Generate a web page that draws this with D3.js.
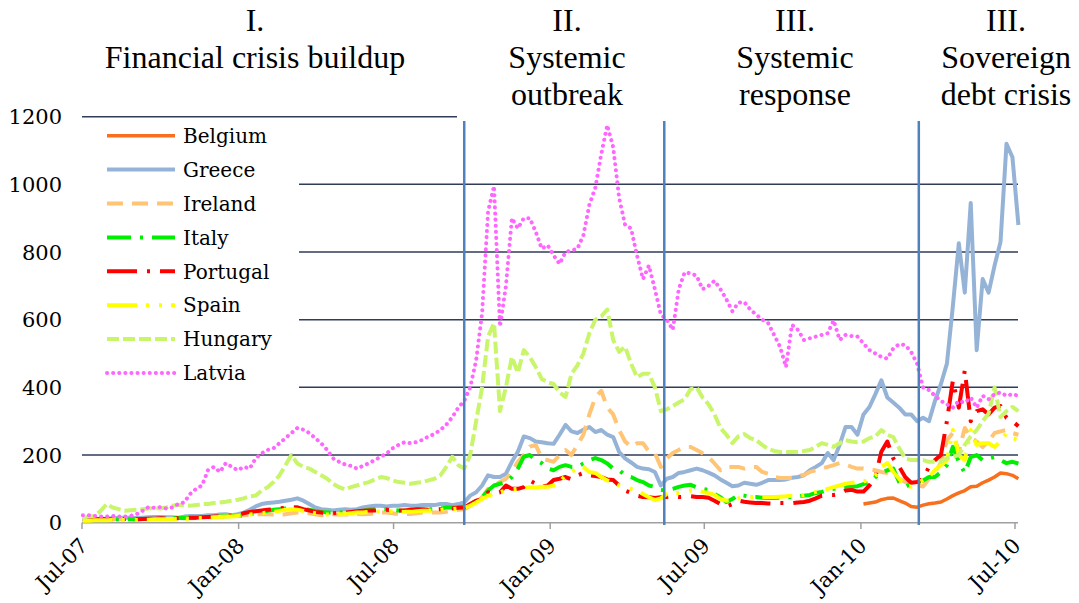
<!DOCTYPE html>
<html><head><meta charset="utf-8">
<script src="https://cdn.jsdelivr.net/npm/d3@7"></script>
<style>body{margin:0;background:#fff} svg{display:block}</style>
</head><body>
<svg id="chart" width="1079" height="603"></svg>
<script>
// ---- data (weekly observations, starting at firstWeek) ----
const seriesNames = ["Belgium","Greece","Ireland","Italy","Portugal","Spain","Hungary","Latvia"];
const firstWeek = "2007-07-02";
const belgiumFirstWeek = "2010-01-04";

const belgium = [55,58,61,68,72,73,65,58,48,46,52,56,58,61,70,80,88,95,106,108,118,126,135,147,145,140,130];

const greece = [
10,10,11,12,12,14,14,15,15,14, 15,16,17,17,16,16,15,18,20,20,
20,22,22,24,25,22,25,30,38,48, 55,58,60,62,65,68,72,65,55,45,
40,38,36,38,40,38,40,45,48,50, 50,48,50,50,52,50,50,52,52,52,
55,55,52,55,60,80,90,110,140,135, 135,145,180,210,255,250,240,238,235,233,
260,289,270,265,275,283,268,274,260,253, 209,190,178,165,160,158,150,110,130,135,
147,150,155,160,155,148,140,128,118,108, 110,118,115,112,118,126,126,126,128,133,
135,140,155,165,176,206,185,230,283,283, 260,320,342,380,421,370,355,340,320,320,
300,310,300,360,410,470,640,826,680,945, 510,720,680,760,830,1120,1080,880];

const ireland = [
8,8,9,9,10,10,10,9,9,9, 10,10,10,11,11,12,12,13,13,14,
15,16,17,18,18,20,20,22,24,25, 25,25,24,24,25,28,30,30,28,25,
22,25,25,24,24,25,26,25,26,28, 30,30,28,25,25,26,28,30,30,30,
30,32,35,38,40,50,60,75,100,110, 120,130,150,180,200,225,230,190,185,180,
200,215,200,230,260,320,370,390,340,320, 274,240,224,235,235,210,206,165,190,206,
215,224,224,215,205,194,175,155,165,165, 165,160,165,165,150,145,135,132,132,132,
138,141,150,155,160,165,170,176,172,165, 160,160,158,155,150,147,140,130,120,118,
110,107,130,150,176,244,265,210,280,253, 240,224,240,265,270,274,265,260];

const italy = [
8,8,9,9,9,10,10,10,10,10, 11,11,12,12,13,13,14,14,15,15,
16,17,18,18,19,20,20,22,25,28, 32,35,38,40,42,43,45,42,38,35,
32,30,30,30,30,30,32,35,38,40, 40,40,38,36,35,36,38,40,40,40,
42,45,45,46,48,55,65,75,95,110, 115,120,135,160,195,200,185,176,160,155,
165,170,165,165,175,185,191,185,175,160, 155,140,135,126,120,110,106,97,95,100,
106,110,112,105,100,97,85,75,61,70, 82,80,76,76,74,73,73,74,75,76,
78,80,82,88,91,96,100,104,106,106, 108,114,118,135,147,155,160,120,106,115,
118,125,135,135,150,170,224,180,147,194, 200,185,190,194,185,176,180,175];

const portugal = [
10,9,10,11,10,10,12,11,12,10, 11,12,12,13,12,14,13,14,15,15,
16,17,18,19,20,21,22,28,32,34, 36,38,40,42,44,46,45,40,36,32,
30,28,28,30,30,32,34,35,36,36, 38,38,37,36,36,38,40,40,38,38,
40,42,42,44,45,55,65,70,90,85, 90,110,100,100,105,125,115,106,110,126,
130,135,128,140,147,140,138,135,128,126, 110,95,88,80,76,75,73,75,76,78,
76,76,78,76,76,74,65,55,48,55, 65,62,60,58,58,57,56,58,58,58,
60,61,65,72,80,82,82,85,95,97, 92,92,110,135,210,240,190,165,135,118,
120,130,165,185,200,300,420,340,450,300, 330,335,320,340,345,310,300,285];

const spain = [
6,6,7,7,7,8,8,8,8,8, 9,9,10,10,10,11,11,12,12,13,
14,15,16,17,18,18,20,22,24,26, 28,30,32,35,38,40,38,35,32,28,
25,24,24,25,26,28,30,30,32,32, 33,34,34,33,32,32,34,35,35,36,
38,40,40,42,44,50,60,70,80,85, 90,95,98,100,102,105,104,106,106,110,
120,140,150,160,165,150,147,135,125,118, 110,106,100,95,85,75,67,72,85,88,
88,90,95,97,91,88,82,70,65,68, 72,76,76,76,76,76,76,77,78,80,
80,82,85,91,95,100,105,110,115,118, 120,122,126,140,165,176,150,130,108,106,
118,125,135,155,170,185,274,200,185,274, 230,235,235,224,240,265,250,245];

const hungary = [
15,18,20,35,55,45,40,35,37,38, 40,42,43,42,45,50,52,52,50,52,
55,55,58,60,62,65,68,72,78,80, 95,105,120,140,170,200,175,165,160,150,
140,130,115,105,98,105,110,115,120,128, 135,132,125,120,118,115,118,120,125,130,
140,165,195,170,160,200,300,400,550,590, 330,400,490,443,510,490,460,425,415,410,
385,372,440,465,500,560,600,610,630,540, 505,520,470,430,440,440,400,330,335,345,
355,365,395,400,370,350,320,280,260,235, 255,262,250,244,230,218,212,209,209,209,
210,212,215,225,235,230,224,235,244,240, 238,240,250,255,274,260,253,220,190,185,
185,185,180,180,180,190,195,200,230,255, 274,300,323,400,312,330,342,330];

const latvia = [
22,22,20,18,18,20,18,18,20,25, 35,46,44,46,42,45,55,60,85,100,
110,155,165,150,176,165,155,165,160,190, 205,215,220,235,250,265,280,275,265,250,
235,215,190,180,172,168,160,168,176,185, 195,205,220,230,238,235,238,245,255,262,
274,290,312,340,360,400,480,620,920,995, 580,700,900,870,900,900,860,810,820,790,
765,800,805,810,850,940,990,1090,1175,1110, 960,880,870,790,720,760,690,615,600,570,
690,740,737,730,690,700,715,690,660,625, 650,652,630,615,600,590,555,520,460,585,
570,540,545,550,555,560,598,540,555,552, 550,530,510,500,490,485,515,528,525,505,
470,400,392,375,360,350,340,360,355,370, 340,375,365,380,385,375,380,375];

const xTickLabels = ["2007-07-01","2008-01-01","2008-07-01","2009-01-01","2009-07-01","2010-01-01","2010-07-01"];
const yTickValues = [0,200,400,600,800,1000,1200];
const phaseDates = ["2008-09-22","2009-05-15","2010-03-10"];
const phaseHeaders = [["I.","Financial crisis buildup"],["II.","Systemic","outbreak"],["III.","Systemic","response"],["III.","Sovereign","debt crisis"]];

// ---- drawing ----
const parse = d3.timeParse("%Y-%m-%d");
const svg = d3.select("#chart");
const x = d3.scaleTime().domain([parse("2007-07-01"), parse("2010-07-01")]).range([82, 1015]);
const y = d3.scaleLinear().domain([0, 1200]).range([522.7, 116.7]);
const plotRight = 1018;

const weeksFrom = (start, n) => d3.range(n).map(i => d3.timeDay.offset(parse(start), 7 * i));
const raw = {Belgium: belgium, Greece: greece, Ireland: ireland, Italy: italy, Portugal: portugal, Spain: spain, Hungary: hungary, Latvia: latvia};
const series = seriesNames.map(name => {
  const vals = raw[name];
  const dates = weeksFrom(name === "Belgium" ? belgiumFirstWeek : firstWeek, vals.length);
  return {name, points: vals.map((v, i) => ({date: dates[i], value: v}))};
});

const styles = {
  Belgium:  {color: "#F8701E", dash: null, width: 3.5},
  Greece:   {color: "#95B3D7", dash: null, width: 4},
  Ireland:  {color: "#FFC474", dash: "16,9", width: 4},
  Italy:    {color: "#00EE00", dash: "24,9,3,9", width: 4},
  Portugal: {color: "#FF0000", dash: "30,10,3,10", width: 4},
  Spain:    {color: "#FFFF00", dash: "30,9,3,10,3,9", width: 4},
  Hungary:  {color: "#C8F56A", dash: "12,4", width: 4},
  Latvia:   {color: "#FF66FF", dash: "0.1,6", width: 4, cap: "round"}
};

// gridlines
svg.append("g").selectAll("line").data(yTickValues.filter(v => v > 0)).join("line")
  .attr("x1", 82).attr("x2", plotRight)
  .attr("y1", d => y(d)).attr("y2", d => y(d))
  .attr("stroke", "#2F3D58").attr("stroke-width", 1.5);

// white areas of legend box and header box (cover gridlines)
svg.append("rect").attr("x", 78).attr("y", 122).attr("width", 221).attr("height", 272).attr("fill", "#fff");
svg.append("rect").attr("x", 457).attr("y", 0).attr("width", 640).attr("height", 120).attr("fill", "#fff");

// y labels
svg.append("g").selectAll("text").data(yTickValues).join("text")
  .attr("x", 62).attr("y", d => y(d)).attr("dy", "0.36em")
  .attr("text-anchor", "end")
  .style("font-family", "DejaVu Serif").style("font-size", "21px").attr("fill", "#000")
  .text(d => d);

// x axis
const xTicks = xTickLabels.map(parse);
svg.append("line").attr("x1", 82).attr("x2", plotRight).attr("y1", 522.7).attr("y2", 522.7)
  .attr("stroke", "#A0A0A0").attr("stroke-width", 1.5);
svg.append("g").selectAll("line").data(xTicks).join("line")
  .attr("x1", d => x(d)).attr("x2", d => x(d)).attr("y1", 522.7).attr("y2", 529)
  .attr("stroke", "#A0A0A0").attr("stroke-width", 1.5);
svg.append("g").selectAll("text").data(xTicks).join("text")
  .attr("transform", d => `translate(${x(d) + 7},${547}) rotate(-45)`)
  .attr("text-anchor", "end")
  .style("font-family", "DejaVu Serif").style("font-size", "21px").attr("fill", "#000")
  .text(d => d3.timeFormat("%b-%y")(d));

// series lines
const line = d3.line().x(d => x(d.date)).y(d => y(d.value));
svg.append("g").selectAll("path").data(series).join("path")
  .attr("d", d => line(d.points))
  .attr("fill", "none")
  .attr("stroke", d => styles[d.name].color)
  .attr("stroke-width", d => styles[d.name].width)
  .attr("stroke-dasharray", d => styles[d.name].dash)
  .attr("stroke-linecap", d => styles[d.name].cap || "butt")
  .attr("stroke-linejoin", "round");

// phase separators
svg.append("g").selectAll("line").data(phaseDates.map(parse)).join("line")
  .attr("x1", d => x(d)).attr("x2", d => x(d)).attr("y1", 121).attr("y2", 525)
  .attr("stroke", "#4F81BD").attr("stroke-width", 2.5);

// legend
const lg = svg.append("g");
seriesNames.forEach((name, i) => {
  const cy = 135.7 + i * 33.9;
  const st = styles[name];
  lg.append("line").attr("x1", 107).attr("x2", 175).attr("y1", cy).attr("y2", cy)
    .attr("stroke", st.color).attr("stroke-width", st.width)
    .attr("stroke-dasharray", st.dash).attr("stroke-linecap", st.cap || "butt");
  lg.append("text").attr("x", 183).attr("y", cy).attr("dy", "0.36em")
    .style("font-family", "DejaVu Serif").style("font-size", "20px").attr("fill", "#000")
    .text(name);
});

// headers
const headerX = [255, 567, 795, 1006];
const headerBaselines = [31, 68, 105];
phaseHeaders.forEach((lines, k) => {
  lines.forEach((t, j) => {
    svg.append("text").attr("x", headerX[k]).attr("y", headerBaselines[j])
      .attr("text-anchor", "middle")
      .style("font-family", "Liberation Serif").style("font-size", "32px").attr("fill", "#000")
      .text(t);
  });
});
</script>
</body></html>
